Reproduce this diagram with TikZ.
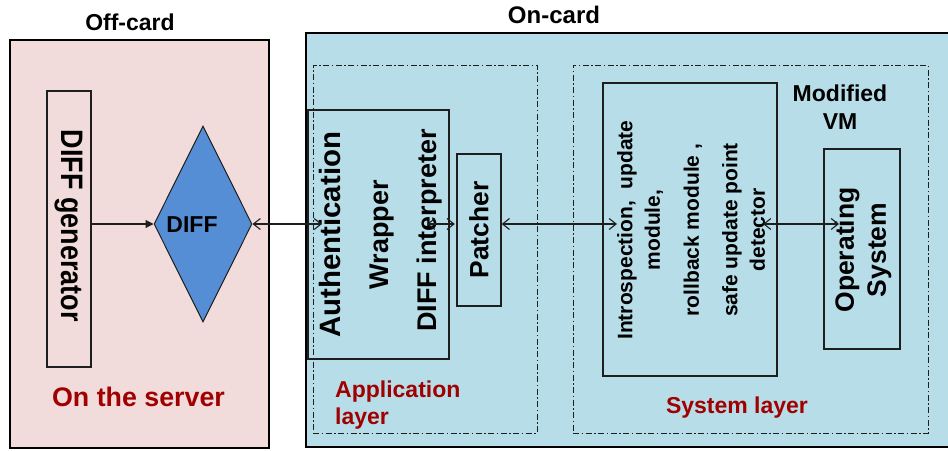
\documentclass[tikz,border=0pt]{standalone}
\usepackage{fontspec}
\usepackage{graphicx}
\setmainfont{Liberation Sans}
\usetikzlibrary{shapes.geometric,arrows.meta}
\definecolor{offfill}{RGB}{242,220,219}
\definecolor{onfill}{RGB}{183,222,232}
\definecolor{diafill}{RGB}{85,142,213}
\definecolor{labred}{RGB}{160,0,0}
\definecolor{lineclr}{RGB}{30,30,30}
\newcommand{\fs}[2]{\fontsize{#1}{#2}\selectfont\bfseries}
\begin{document}
\begin{tikzpicture}[x=1pt,y=-1pt,
  every node/.style={inner sep=0pt},
  outerbox/.style={draw=black, line width=2pt, rectangle},
  layerbox/.style={draw=lineclr, line width=1pt, rectangle,
    dash pattern=on 6pt off 2.5pt on 1.5pt off 2.5pt},
  innerbox/.style={draw=lineclr, line width=1.3pt, rectangle},
  boxsize/.style 2 args={minimum width=#1, minimum height=#2},
  biarrow/.style={draw=lineclr, line width=1.1pt,
    {Straight Barb[length=7pt,width=11pt]}-{Straight Barb[length=7pt,width=11pt]}},
  solidarrow/.style={draw=lineclr, line width=1.1pt, -{Triangle[length=8pt,width=8pt]}},
  redlbl/.style={text=labred},
  vtext/.style={rotate=90, anchor=base}
]
\useasboundingbox (0,0) rectangle (948,450);
\fill[white] (0,0) rectangle (948,450);
\clip (0,0) rectangle (948,450);

% containers
\node[outerbox, fill=offfill, boxsize={259pt}{408pt}] (offcard) at (139.5,244) {};
\node[outerbox, fill=onfill, boxsize={660pt}{414pt}] (oncard) at (636,240) {};
\node[layerbox, boxsize={224pt}{368pt}] (applayer) at (425,249) {};
\node[layerbox, boxsize={355pt}{368pt}] (syslayer) at (750.5,249) {};

% inner boxes
\node[innerbox, boxsize={44pt}{276pt}] (gen) at (69,229) {};
\node[diamond, draw=lineclr, line width=1pt, fill=diafill, boxsize={98pt}{196pt}] (diff) at (203,224) {};
\node[innerbox, boxsize={141pt}{249pt}] (wrapper) at (378.5,234.5) {};
\node[innerbox, boxsize={44pt}{152pt}] (patcher) at (479,230) {};
\node[innerbox, boxsize={174pt}{293pt}] (intro) at (690,229.5) {};
\node[innerbox, boxsize={76pt}{200pt}] (os) at (862,249) {};

% texts
\node[font=\fs{23}{28}] (offlabel) at (130,22.3) {Off-card};
\node[font=\fs{24}{28}] (onlabel) at (554,15) {On-card};
\node[font=\fs{26.8}{30}, redlbl] (server) at (138.5,397.2) {On the server};
\node[font=\fs{23}{28}] (difftext) at (192,225) {DIFF};
\node[font=\fs{27}{32}, rotate=-90] (gentext) at (69,226) {\scalebox{1}[1.15]{DIFF generator}};
\node[font=\fs{29.4}{34}, vtext] (authtext) at (340,234.7) {Authentication};
\node[font=\fs{27}{32}, vtext] (wraptext) at (388.3,234.7) {Wrapper};
\node[font=\fs{27}{32}, vtext] (interptext) at (436.7,230.7) {DIFF interpreter};
\node[font=\fs{26.4}{30}, rotate=90] (patchtext) at (479,230) {Patcher};
\node[font=\fs{21}{27.5}, rotate=90, align=center] (introtext) at (691,230)
  {Introspection,~ update\\module,\\[11.5pt]rollback module ,\\[11pt]safe update point\\detector};
\node[font=\fs{26.5}{32}, rotate=90, align=center] (ostext) at (863,250) {Operating\\System};
\node[font=\fs{23}{28.3}, align=center] (vmtext) at (840,107.4) {Modified\\VM};
\node[font=\fs{23}{27}, redlbl, align=left, anchor=west] (applabel) at (335,405.5) {Application\\layer};
\node[font=\fs{23}{28}, redlbl] (syslabel) at (737,407.3) {System layer};

% connector end points
\coordinate (wrapIn) at (322,224);
\coordinate (wrapOut) at (427,224);
\coordinate (introIn) at (617,224);
\coordinate (introOut) at (763,224);
\coordinate (osIn) at (839,224);

% connectors
\draw[solidarrow] (gen.east |- diff.west) -- (diff.west);
\draw[biarrow] (diff.east) -- (wrapIn);
\draw[biarrow, shorten >=1.5pt] (wrapOut) -- (patcher.west |- diff.east);
\draw[biarrow] (patcher.east |- diff.east) -- (introIn);
\draw[biarrow] (introOut) -- (osIn);
\end{tikzpicture}
\end{document}
